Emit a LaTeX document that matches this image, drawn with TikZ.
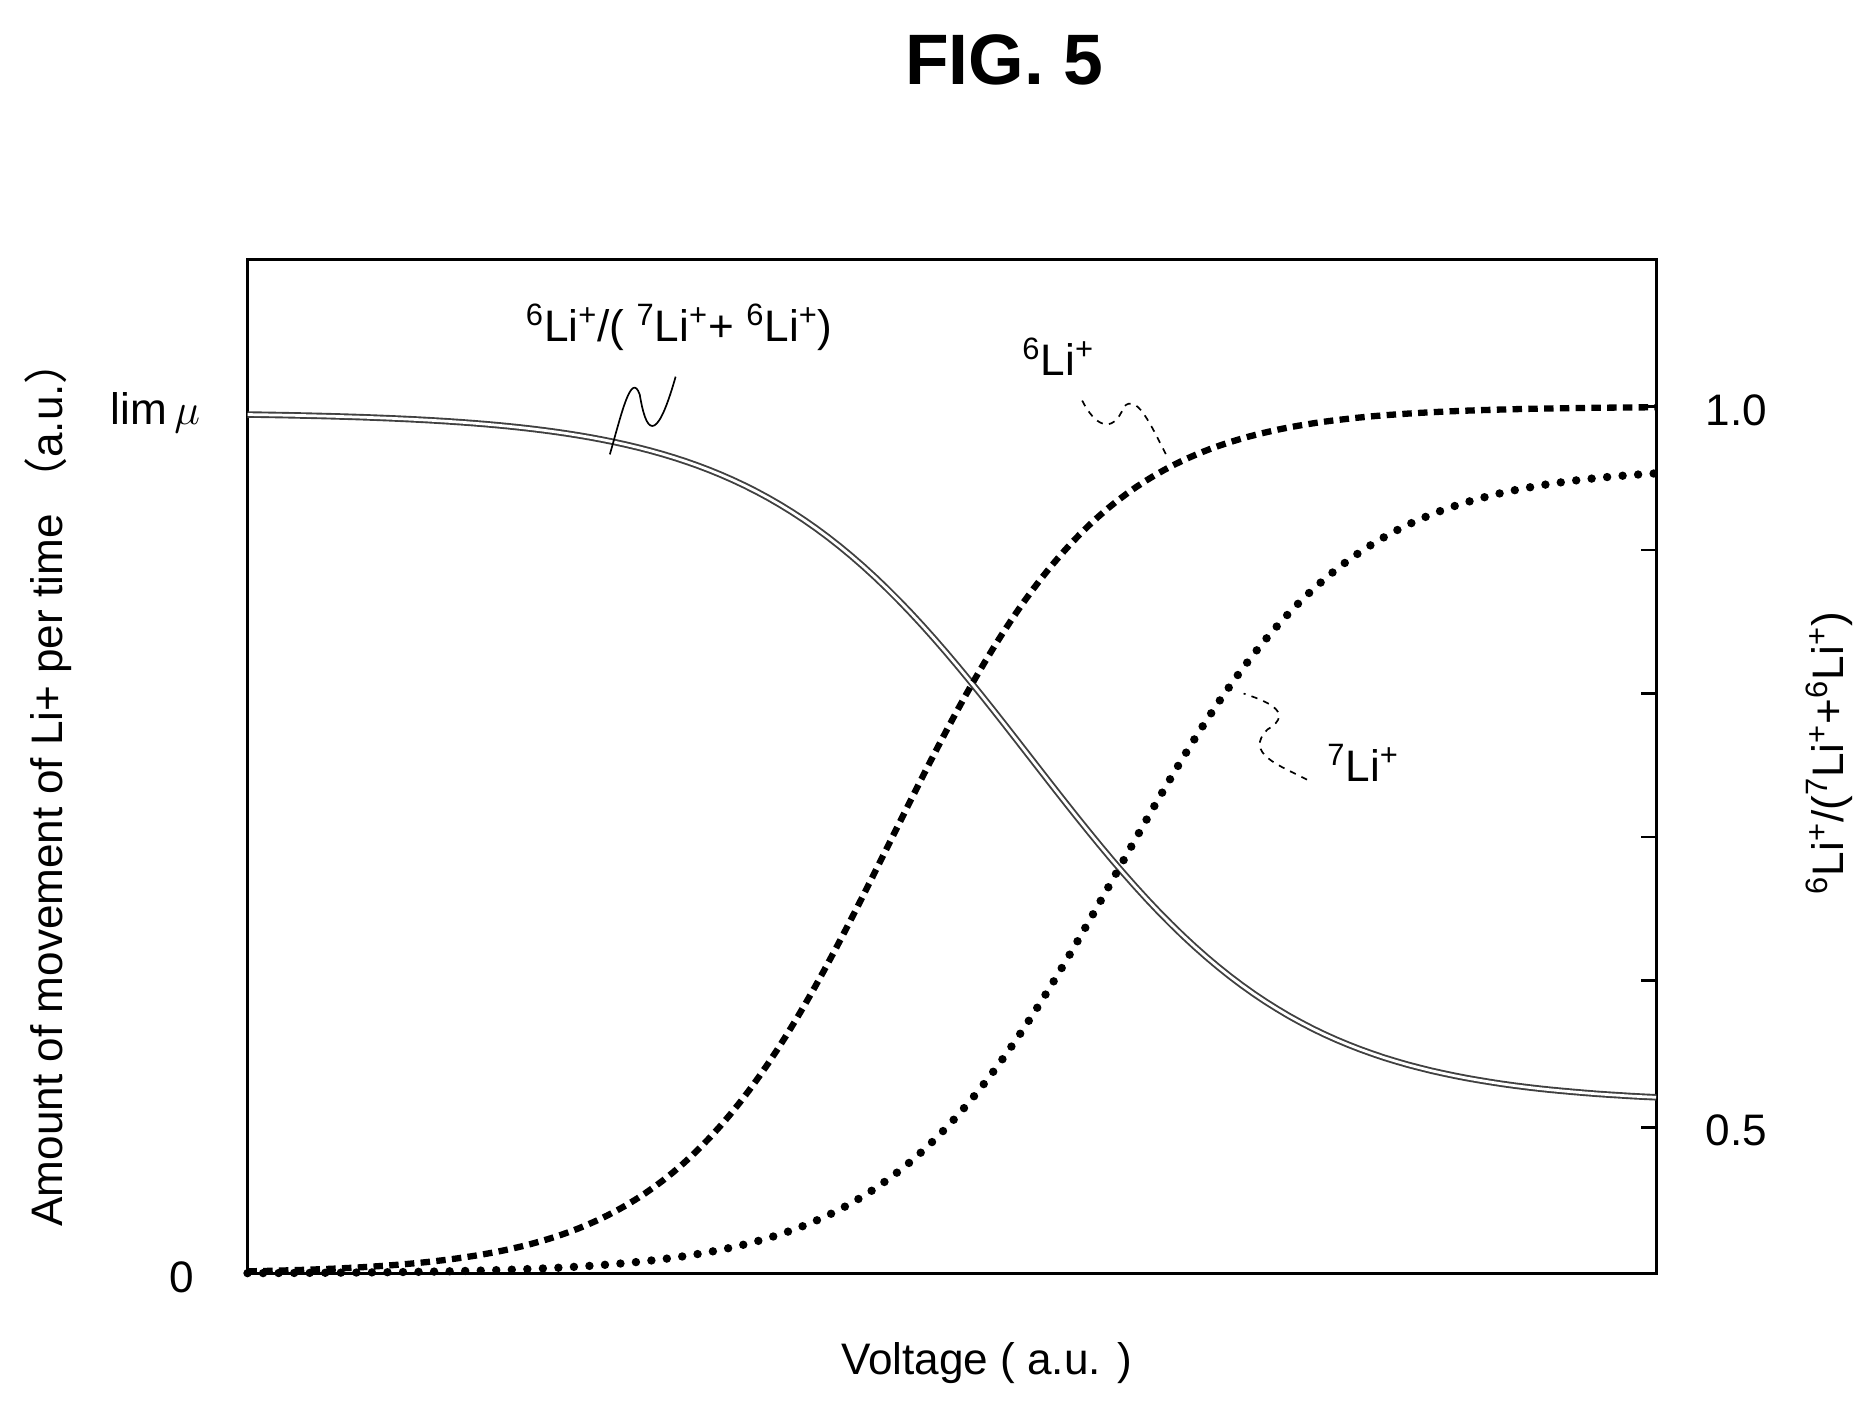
\documentclass[tikz,border=0pt]{standalone}
\usepackage{fontspec}
\setmainfont{Liberation Sans}
\newfontfamily\cjk{Noto Sans CJK JP}
\newcommand{\sps}[1]{\textsuperscript{#1}}
\begin{document}
\begin{tikzpicture}[x=0.02cm,y=-0.02cm,
  lbl/.style={font=\fontsize{21}{25}\selectfont, inner sep=1pt},
  ratio/.style={draw=black!75, double=white, double distance=1.3pt, line width=0.9pt},
  sixli/.style={line width=3pt, dash pattern=on 4.5pt off 3pt},
  sevenli/.style={line width=4pt, line cap=round, dash pattern=on 0pt off 7.4pt},
  lead/.style={line width=0.8pt}]
\useasboundingbox (0,0) rectangle (1568,1182);
% title
\node[font=\fontsize{34}{40}\selectfont\bfseries] (title) at (840,50) {FIG. 5};
% frame
\draw[line width=1.6pt] (207,217) rectangle (1385,1065);
\foreach \yy in {340,460,580,700,820,943} \draw[line width=1.2pt] (1385,\yy) -- (1372,\yy);
% curves
\draw[ratio] plot[domain=207:1385, samples=120] (\x, {345+578/(1+exp(-(\x-862)/112))});
\draw[sixli] plot[domain=207:1385, samples=150] (\x, {1065-725/(1+exp(-(\x-745)/90))});
\draw[sevenli] plot[domain=207:1385, samples=150] (\x, {1065-675/(1+exp(-(\x-935)/95))});
% axis labels
\node[lbl] (lim) at (130,345) {lim\,$\mu$};
\node[lbl] (zero) at (152,1068) {0};
\node[lbl] (one) at (1452,343) {1.0};
\node[lbl] (half) at (1452,945) {0.5};
\node[lbl, rotate=90] (ylab) at (40,655) {Amount of movement of Li+ per time {\cjk （}a.u.{\cjk ）}};
\node[lbl, rotate=90] (rlab) at (1530,630) {\sps{6}Li\sps{+}/(\sps{7}Li\sps{+}+\sps{6}Li\sps{+})};
\node[lbl] (xlab) at (825,1140) {Voltage ( a.u. )};
% curve labels
\node[lbl] (rl) at (568,274) {\sps{6}Li\sps{+}/( \sps{7}Li\sps{+}+ \sps{6}Li\sps{+})};
\node[lbl] (l6) at (885,298) {\sps{6}Li\sps{+}};
\node[lbl] (l7) at (1140,638) {\sps{7}Li\sps{+}};
\coordinate (r1) at (565,315); \coordinate (r2) at (510,380);
\coordinate (s1) at (905,335); \coordinate (s2) at (975,380);
\coordinate (t1) at (1093,652); \coordinate (t2) at (1040,580);
\draw[lead] (r1) .. controls (548,375) and (540,360) .. (535,330) .. controls (528,310) and (520,345) .. (r2);
\draw[lead,dashed] (s1) .. controls (915,355) and (930,365) .. (940,340) .. controls (950,330) and (960,350) .. (s2);
\draw[lead,dashed] (t1) .. controls (1070,640) and (1040,630) .. (1060,610) .. controls (1085,595) and (1055,585) .. (t2);
\end{tikzpicture}
\end{document}
